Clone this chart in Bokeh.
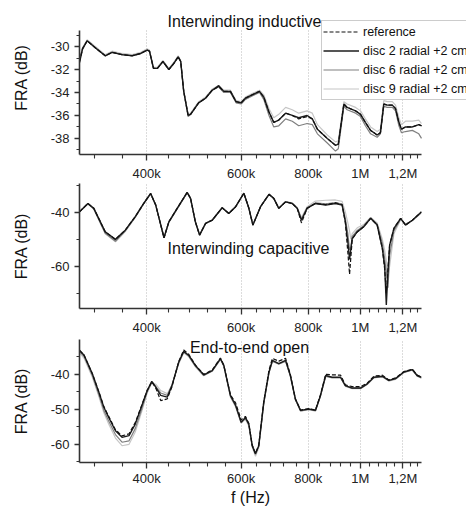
from bokeh.plotting import figure
from bokeh.models import Range1d, FixedTicker, Legend, LegendItem, Label, BasicTickFormatter
from bokeh.layouts import column
from bokeh.embed import file_html
from bokeh.resources import INLINE

FONT = "Liberation Sans"

# ---------------- data ----------------
x_major_hz = [400000, 600000, 800000, 1000000, 1200000]
x_major_labels = ["400k", "600k", "800k", "1M", "1,2M"]
x_minor_hz = [320000, 360000, 440000, 480000, 520000, 560000, 640000, 680000, 720000, 760000,
              840000, 880000, 920000, 960000, 1040000, 1080000, 1120000, 1160000, 1240000, 1280000]
x_span_hz = (300000, 1300000)

series_names = ["reference", "disc 2 radial +2 cm", "disc 6 radial +2 cm", "disc 9 radial +2 cm"]

# Panel 1: Interwinding inductive
freq1_khz = [300, 304, 310, 321, 335, 345, 360, 376, 390, 401, 405, 412, 419, 429, 440, 449, 458, 463, 469, 478,
             483, 500, 515, 530, 545, 557, 573, 587, 600, 611, 629, 649, 661, 676, 690, 705, 726, 747, 768, 796,
             814, 832, 868, 899, 910, 932, 945, 980, 1001, 1022, 1045, 1075, 1090, 1106, 1122, 1147, 1163, 1180,
             1193, 1214, 1250, 1285, 1300]
ref1 = [-31.3, -30.2, -29.5, -30.1, -30.8, -30.5, -30.7, -30.8, -30.6, -30.3, -30.4, -31.9, -31.9, -31.3, -32.0,
        -31.5, -30.9, -31.3, -33.9, -36.0, -35.9, -34.9, -34.5, -33.8, -33.5, -33.9, -33.9, -34.8, -34.9, -34.5,
        -34.2, -33.9, -34.4, -35.7, -36.6, -36.4, -35.8, -36.0, -36.3, -36.1, -36.3, -37.2, -38.0, -38.6, -38.5,
        -35.0, -35.3, -35.6, -35.9, -36.6, -37.3, -37.7, -37.5, -35.0, -35.1, -35.1, -35.4, -36.6, -37.2, -37.0,
        -37.0, -36.8, -36.9]
disc2_1 = [-31.4, -30.2, -29.5, -30.1, -30.8, -30.5, -30.7, -30.8, -30.6, -30.3, -30.4, -31.9, -31.9, -31.3, -32.0,
           -31.5, -30.9, -31.3, -33.9, -36.0, -35.9, -34.9, -34.5, -33.8, -33.4, -33.9, -33.9, -34.8, -34.9, -34.5,
           -34.2, -33.9, -34.4, -35.7, -36.6, -36.4, -35.8, -36.0, -36.2, -36.0, -36.3, -37.2, -38.0, -38.6, -38.5,
           -35.0, -35.3, -35.6, -35.9, -36.6, -37.3, -37.7, -37.5, -35.0, -35.1, -35.1, -35.4, -36.6, -37.2, -37.0,
           -37.0, -36.8, -36.9]
disc6_1 = [-31.2, -30.1, -29.5, -30.1, -30.8, -30.5, -30.7, -30.8, -30.6, -30.3, -30.4, -31.9, -31.9, -31.3, -32.0,
           -31.5, -30.9, -31.3, -33.9, -36.1, -35.9, -34.9, -34.5, -33.8, -33.5, -34.0, -34.0, -34.9, -35.0, -34.6,
           -34.3, -34.0, -34.6, -36.0, -37.0, -36.9, -36.3, -36.5, -36.9, -36.7, -36.8, -37.6, -38.4, -39.1, -38.9,
           -35.2, -35.5, -35.8, -36.1, -36.9, -37.6, -37.9, -37.6, -35.2, -35.3, -35.3, -35.6, -36.9, -37.5, -37.4,
           -37.3, -37.6, -38.0]
disc9_1 = [-31.2, -30.1, -29.4, -30.0, -30.7, -30.4, -30.6, -30.7, -30.5, -30.2, -30.3, -31.8, -31.8, -31.2, -31.9,
           -31.4, -30.8, -31.2, -33.8, -35.9, -35.8, -34.8, -34.4, -33.7, -33.4, -33.8, -33.8, -34.7, -34.8, -34.4,
           -34.1, -33.8, -34.2, -35.4, -36.2, -35.9, -35.3, -35.5, -35.8, -35.6, -35.8, -36.8, -37.7, -38.3, -38.2,
           -34.8, -35.0, -35.3, -35.6, -36.3, -37.0, -37.4, -37.2, -34.7, -34.8, -34.8, -35.1, -36.2, -36.8, -36.5,
           -36.5, -36.4, -36.7]

# Panel 2: Interwinding capacitive
freq2_khz = [300, 311, 319, 335, 350, 365, 381, 395, 407, 416, 431, 440, 456, 476, 483, 493, 502, 515, 530, 553,
             569, 586, 607, 620, 631, 652, 676, 690, 705, 726, 747, 763, 777, 796, 825, 862, 899, 925, 938, 948,
             955, 960, 966, 987, 1015, 1045, 1075, 1099, 1110, 1118, 1126, 1134, 1155, 1189, 1214, 1250, 1300]
ref2 = [-39.9, -36.8, -38.6, -47.3, -50.1, -46.7, -41.7, -36.8, -33.1, -37.4, -49.5, -43.6, -38.6, -32.7, -34.9,
        -43.6, -48.5, -44.2, -43.0, -38.4, -40.5, -38.0, -33.0, -38.5, -44.8, -38.0, -33.4, -34.9, -38.6, -36.2,
        -36.8, -38.6, -44.0, -38.6, -36.8, -37.2, -36.6, -37.2, -44.0, -55.0, -63.0, -57.0, -50.0, -47.3, -45.4,
        -42.3, -44.8, -53.4, -61.0, -70.0, -61.0, -52.2, -46.0, -42.3, -44.8, -43.0, -39.9]
disc2_2 = [-39.9, -36.8, -38.6, -47.3, -50.1, -46.7, -41.7, -36.8, -33.1, -37.4, -49.5, -43.6, -38.6, -32.7, -34.9,
           -43.6, -48.5, -44.2, -43.0, -38.4, -40.5, -38.0, -33.0, -38.5, -44.8, -38.0, -33.4, -34.9, -38.6, -36.2,
           -36.8, -38.6, -43.0, -38.6, -36.8, -37.4, -36.8, -37.4, -43.6, -51.0, -57.5, -54.0, -49.7, -47.3, -45.4,
           -42.3, -44.8, -53.4, -60.0, -74.4, -62.0, -52.2, -46.0, -42.3, -44.8, -43.0, -39.9]
disc6_2 = [-39.9, -36.9, -38.8, -47.8, -50.8, -47.0, -41.9, -36.9, -33.1, -37.4, -49.5, -43.8, -38.8, -32.8, -35.0,
           -43.6, -48.5, -44.2, -43.0, -38.4, -40.5, -38.0, -33.0, -38.5, -44.8, -38.0, -33.4, -34.9, -38.6, -36.2,
           -36.8, -38.6, -42.5, -38.4, -36.6, -36.9, -36.5, -37.0, -42.5, -48.0, -54.0, -53.0, -49.0, -46.8, -45.0,
           -42.1, -44.5, -51.5, -57.0, -62.0, -68.0, -56.0, -47.0, -42.5, -44.6, -43.0, -40.1]
disc9_2 = [-40.0, -37.0, -38.9, -48.0, -51.0, -47.2, -42.0, -37.0, -33.2, -37.5, -49.3, -43.8, -38.8, -32.9, -35.1,
           -43.4, -48.2, -44.0, -42.8, -38.3, -40.3, -37.9, -33.0, -38.4, -44.5, -37.9, -33.4, -34.9, -38.5, -36.1,
           -36.6, -38.3, -42.0, -38.0, -35.9, -35.6, -35.5, -36.0, -40.0, -44.0, -47.0, -50.0, -48.0, -45.8, -44.6,
           -42.0, -44.0, -50.0, -54.0, -58.0, -64.0, -60.0, -48.0, -42.8, -44.3, -43.2, -40.3]

# Panel 3: End-to-end open
freq3_khz = [300, 306, 317, 326, 333, 340, 350, 360, 371, 381, 392, 401, 409, 416, 425, 437, 446, 459, 469, 479,
             493, 511, 530, 549, 557, 573, 586, 600, 611, 620, 629, 638, 647, 661, 676, 686, 705, 726, 741, 757,
             774, 802, 825, 843, 862, 886, 919, 938, 966, 1001, 1030, 1060, 1099, 1130, 1163, 1205, 1250, 1276, 1300]
ref3 = [-33.1, -34.5, -39.8, -45.0, -49.2, -52.0, -55.8, -57.6, -57.0, -53.8, -48.7, -44.6, -42.1, -43.9, -47.5,
        -47.0, -43.5, -36.3, -33.0, -34.2, -37.3, -40.0, -38.7, -35.3, -37.4, -45.8, -48.2, -53.0, -52.0, -54.0,
        -60.2, -62.6, -60.2, -47.8, -38.8, -35.4, -36.2, -35.4, -40.1, -47.0, -50.2, -49.8, -50.2, -45.8, -40.0,
        -40.1, -40.2, -43.0, -43.5, -43.5, -42.5, -40.5, -40.2, -41.6, -41.0, -39.2, -38.5, -40.2, -40.8]
disc2_3 = [-33.1, -34.5, -39.8, -45.1, -49.4, -52.3, -56.1, -58.0, -57.5, -54.2, -48.9, -44.6, -42.0, -43.6, -46.0,
           -46.5, -43.2, -36.5, -33.4, -34.5, -37.4, -40.1, -38.9, -35.5, -37.4, -46.0, -48.9, -53.7, -52.3, -54.2,
           -60.4, -62.8, -60.4, -48.0, -39.3, -36.0, -36.9, -36.0, -40.3, -47.0, -50.3, -49.9, -50.3, -46.0, -40.3,
           -40.8, -40.8, -43.2, -43.9, -43.9, -42.7, -40.8, -40.5, -41.7, -41.2, -39.3, -38.6, -40.3, -40.8]
disc6_3 = [-33.4, -34.9, -40.3, -45.8, -50.3, -53.3, -57.2, -59.4, -59.0, -55.5, -49.8, -45.0, -42.2, -43.5, -45.3,
           -46.0, -43.0, -36.6, -33.6, -34.7, -37.6, -40.3, -39.0, -35.6, -37.5, -46.2, -49.0, -53.8, -52.5, -54.4,
           -60.2, -62.5, -60.6, -48.3, -39.5, -36.2, -37.0, -36.2, -40.5, -47.2, -50.4, -50.0, -50.4, -46.2, -40.5,
           -40.9, -40.9, -43.3, -44.0, -44.0, -42.8, -40.9, -40.6, -41.8, -41.3, -39.4, -38.7, -40.4, -41.0]
disc9_3 = [-33.8, -35.4, -40.8, -46.3, -51.0, -54.2, -58.2, -60.4, -60.0, -56.5, -50.5, -45.3, -42.3, -42.8, -44.6,
           -45.5, -43.0, -37.0, -33.8, -34.9, -37.8, -40.4, -39.1, -35.8, -37.8, -46.5, -49.3, -54.0, -52.8, -54.8,
           -60.8, -63.4, -61.0, -48.6, -39.6, -36.3, -37.1, -36.3, -40.6, -47.3, -50.5, -50.1, -50.5, -46.3, -40.6,
           -41.0, -41.0, -43.4, -44.1, -44.1, -42.9, -41.0, -40.7, -41.9, -41.4, -39.5, -38.8, -40.5, -41.1]

panel_titles = ["Interwinding inductive", "Interwinding capacitive", "End-to-end open"]
y_ranges = [(-39.4, -28.6), (-75.7, -29.4), (-65.2, -30.0)]
y_major = [[-30, -32, -34, -36, -38], [-40, -60], [-40, -50, -60]]
y_minor = [[-29, -31, -33, -35, -37, -39], [-30, -50, -70], [-35, -45, -55, -65]]

# ---------------- styling ----------------
COLORS = ["#111111", "#1c1c1c", "#808080", "#c6c6c6"]
DASHES = ["4 2", "solid", "solid", "solid"]
WIDTHS = [1.2, 1.4, 1.2, 1.2]
AXIS_COLOR = "#333333"
AXIS_W = 342          # pixel width of the drawn x axis (300k .. 1.3M)
LEFT = 79


def make_panel(fw, fh, top, bottom, right, yr, yview, ymaj, ymin, xend, show_xlabel, xstandoff):
    p = figure(frame_width=fw, frame_height=fh, x_axis_type="log",
               x_range=Range1d(x_span_hz[0], xend), y_range=Range1d(*yview),
               output_backend="svg", toolbar_location=None,
               min_border_left=LEFT, min_border_right=right,
               min_border_top=top, min_border_bottom=bottom)
    p.outline_line_color = None
    p.background_fill_color = "white"
    p.border_fill_color = "white"

    xa = p.xaxis[0]
    xa.bounds = x_span_hz
    xa.ticker = FixedTicker(ticks=x_major_hz, minor_ticks=x_minor_hz)
    xa.formatter = BasicTickFormatter()
    xa.major_label_overrides = {float(t): l for t, l in zip(x_major_hz, x_major_labels)}
    xa.major_tick_out = 6
    xa.major_tick_in = 0
    xa.minor_tick_out = 4
    xa.minor_tick_in = 0
    xa.axis_line_width = 1.6
    xa.axis_line_color = AXIS_COLOR
    xa.major_tick_line_color = AXIS_COLOR
    xa.minor_tick_line_color = AXIS_COLOR
    xa.major_tick_line_width = 1.3
    xa.minor_tick_line_width = 1.1
    xa.major_label_text_font = FONT
    xa.major_label_text_font_size = "13px"
    xa.major_label_text_color = "#222222"
    xa.major_label_standoff = xstandoff
    if show_xlabel:
        xa.axis_label = "f (Hz)"
        xa.axis_label_text_font = FONT
        xa.axis_label_text_font_size = "16px"
        xa.axis_label_text_font_style = "normal"
        xa.axis_label_text_color = "#111111"
        xa.axis_label_standoff = 0

    ya = p.yaxis[0]
    ya.bounds = yr
    ya.ticker = FixedTicker(ticks=ymaj, minor_ticks=ymin)
    ya.major_label_overrides = {float(t): str(t) for t in ymaj}
    ya.major_tick_out = 5
    ya.major_tick_in = 0
    ya.minor_tick_out = 3
    ya.minor_tick_in = 0
    ya.axis_line_width = 1.6
    ya.axis_line_color = AXIS_COLOR
    ya.major_tick_line_color = AXIS_COLOR
    ya.minor_tick_line_color = AXIS_COLOR
    ya.major_tick_line_width = 1.3
    ya.minor_tick_line_width = 1.1
    ya.major_label_text_font = FONT
    ya.major_label_text_font_size = "13px"
    ya.major_label_text_color = "#222222"
    ya.major_label_standoff = 5
    ya.axis_label = "FRA (dB)"
    ya.axis_label_text_font = FONT
    ya.axis_label_text_font_size = "16px"
    ya.axis_label_text_font_style = "normal"
    ya.axis_label_text_color = "#111111"
    ya.axis_label_standoff = 18

    p.xgrid.ticker = FixedTicker(ticks=x_major_hz)
    p.xgrid.cross_bounds = yr
    p.xgrid.grid_line_color = "#b8b8b8"
    p.xgrid.grid_line_dash = "1 2"
    p.xgrid.grid_line_width = 1
    p.ygrid.grid_line_color = None
    return p


def draw(p, freq_khz, series):
    hz = [f * 1000 for f in freq_khz]
    renderers = [None] * 4
    # light series first so that the dark ones sit on top
    for i in [3, 2, 1, 0]:
        renderers[i] = p.line(hz, series[i], line_color=COLORS[i], line_dash=DASHES[i], line_width=WIDTHS[i])
    return renderers


def extend_log(span, px_axis, px_frame):
    lo, hi = span
    return lo * (hi / lo) ** (px_frame / px_axis)


# panel 1: the frame reaches the top and right edges of the canvas so the title and the
# legend (which sit partly outside the drawn axes) are not clipped; axes keep their bounds
FW1, AX_H1, TOP_EXT1 = 466 - LEFT, 124, 30
yr1 = y_ranges[0]
yview1 = (yr1[0], yr1[1] + TOP_EXT1 * (yr1[1] - yr1[0]) / AX_H1)
RIGHT23 = 466 - LEFT - AXIS_W
p1 = make_panel(FW1, AX_H1 + TOP_EXT1, 0, 29, 0, yr1, yview1, y_major[0], y_minor[0],
                extend_log(x_span_hz, AXIS_W, FW1), False, 5)
p2 = make_panel(AXIS_W, 125, 0, 29, RIGHT23, y_ranges[1], y_ranges[1], y_major[1], y_minor[1],
                x_span_hz[1], False, 5)
p3 = make_panel(AXIS_W, 123, 2, 44, RIGHT23, y_ranges[2], y_ranges[2], y_major[2], y_minor[2],
                x_span_hz[1], True, 2)

r1 = draw(p1, freq1_khz, [ref1, disc2_1, disc6_1, disc9_1])
draw(p2, freq2_khz, [ref2, disc2_2, disc6_2, disc9_2])
draw(p3, freq3_khz, [ref3, disc2_3, disc6_3, disc9_3])

title_kw = dict(x_units="screen", y_units="screen", text_font=FONT, text_font_size="16px",
                text_align="center", text_baseline="middle", text_color="#111111")
p1.add_layout(Label(x=165, y=AX_H1 + 9, text=panel_titles[0], **title_kw))
p2.add_layout(Label(x=169, y=60, text=panel_titles[1], **title_kw))
p3.add_layout(Label(x=170, y=123 - 8, text=panel_titles[2], **title_kw))

legend = Legend(items=[LegendItem(label=n, renderers=[r]) for n, r in zip(series_names, r1)],
                location=(242, 54))
legend.border_line_color = "#999999"
legend.border_line_width = 1
legend.background_fill_color = "white"
legend.background_fill_alpha = 1.0
legend.label_text_font = FONT
legend.label_text_font_size = "12.5px"
legend.label_text_color = "#111111"
legend.glyph_width = 36
legend.glyph_height = 19
legend.label_height = 19
legend.label_standoff = 4
legend.spacing = 0
legend.padding = 1
legend.margin = 0
p1.add_layout(legend)

layout = column(p1, p2, p3, spacing=0)
open("out.html", "w").write(file_html(layout, INLINE))
